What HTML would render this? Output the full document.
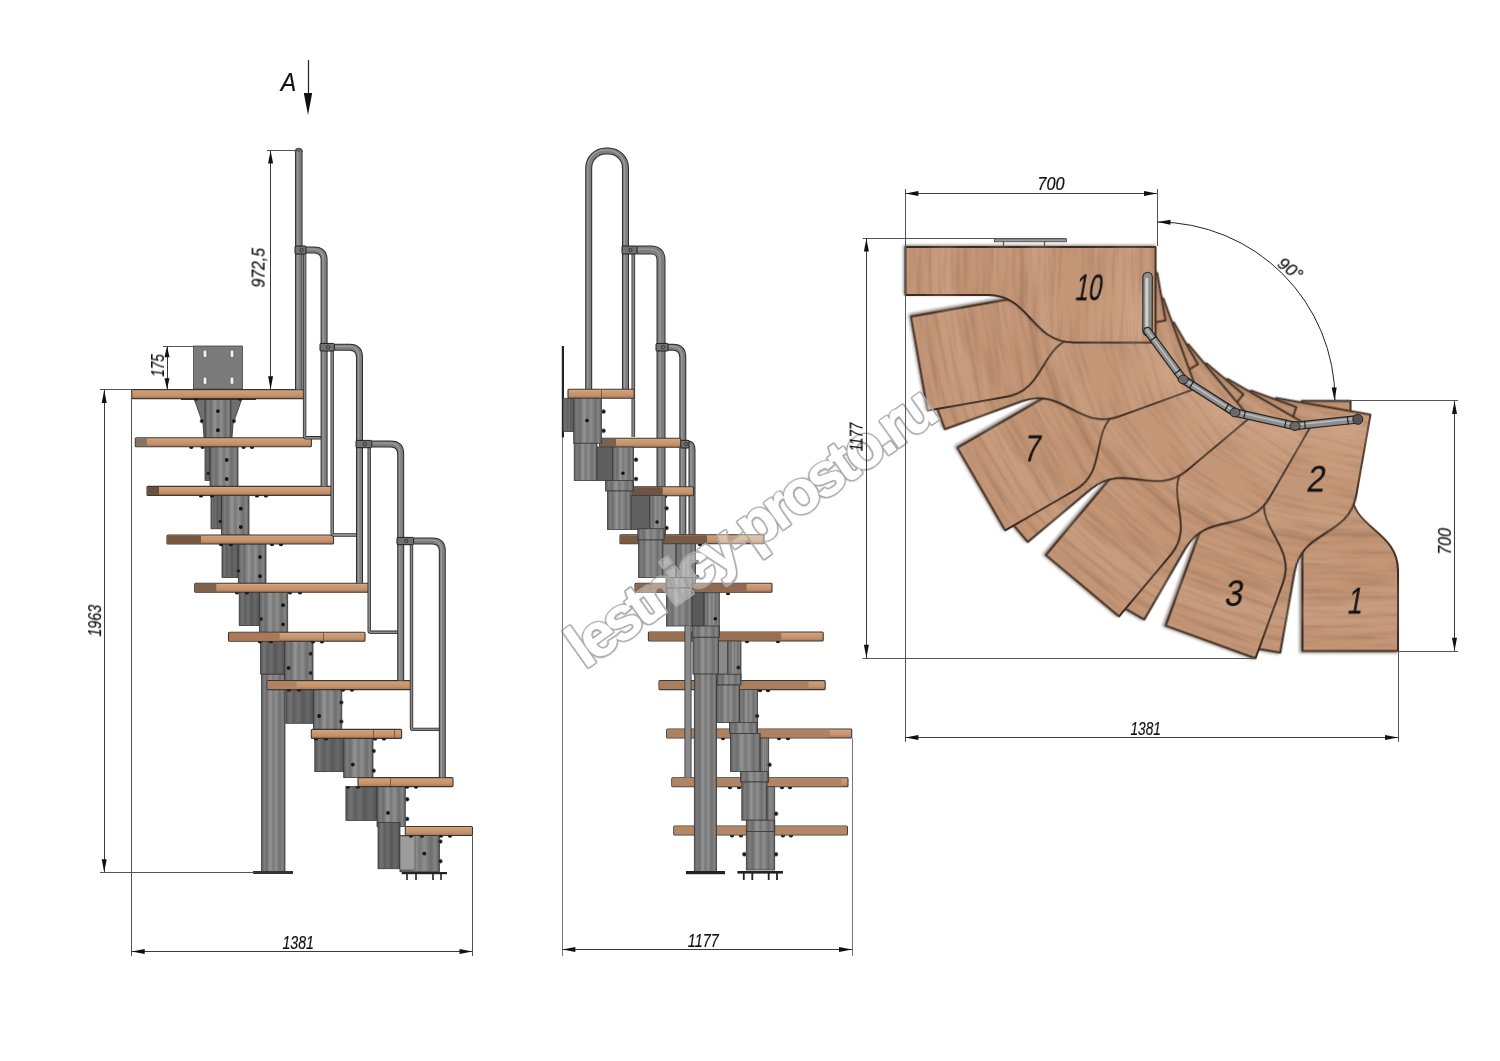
<!DOCTYPE html>
<html><head><meta charset="utf-8"><style>html,body{margin:0;padding:0;background:#fff;overflow:hidden}svg{display:block} text{will-change:transform}</style></head>
<body><svg width="1500" height="1061" viewBox="0 0 1500 1061"><defs>
<linearGradient id="colg" x1="0" x2="1" y1="0" y2="0">
<stop offset="0" stop-color="#5c5c5c"/><stop offset="0.12" stop-color="#7e7e7e"/><stop offset="0.22" stop-color="#6c6c6c"/><stop offset="0.38" stop-color="#959595"/><stop offset="0.5" stop-color="#787878"/><stop offset="0.62" stop-color="#8e8e8e"/><stop offset="0.78" stop-color="#6e6e6e"/><stop offset="0.9" stop-color="#858585"/><stop offset="1" stop-color="#5a5a5a"/>
</linearGradient>
<linearGradient id="coldg" x1="0" x2="1" y1="0" y2="0">
<stop offset="0" stop-color="#555"/><stop offset="0.15" stop-color="#747474"/><stop offset="0.3" stop-color="#5e5e5e"/><stop offset="0.45" stop-color="#6e6e6e"/><stop offset="0.6" stop-color="#585858"/><stop offset="0.8" stop-color="#686868"/><stop offset="1" stop-color="#505050"/>
</linearGradient>
<filter id="shd" x="-5%" y="-5%" width="110%" height="110%"><feDropShadow dx="1" dy="1.5" stdDeviation="1.2" flood-color="#3a2418" flood-opacity="0.45"/></filter>
<linearGradient id="treadg" x1="0" x2="0" y1="0" y2="1"><stop offset="0" stop-color="#d6b08c"/><stop offset="0.25" stop-color="#cc9c74"/><stop offset="0.65" stop-color="#c4936b"/><stop offset="1" stop-color="#a67858"/></linearGradient>
<filter id="woodf" x="-3%" y="-3%" width="106%" height="108%" color-interpolation-filters="sRGB">
<feTurbulence type="fractalNoise" baseFrequency="0.16 0.012" numOctaves="3" seed="4" result="n"/>
<feColorMatrix in="n" type="matrix" values="0 0 0 0 0.42  0 0 0 0 0.27  0 0 0 0 0.18  0.55 0 0 0 -0.23" result="g"/>
<feComposite in="g" in2="SourceAlpha" operator="in" result="gi"/>
<feTurbulence type="fractalNoise" baseFrequency="0.02 0.004" numOctaves="2" seed="9" result="n2"/>
<feColorMatrix in="n2" type="matrix" values="0 0 0 0 0.93  0 0 0 0 0.8  0 0 0 0 0.68  0.7 0 0 0 -0.3" result="h"/>
<feComposite in="h" in2="SourceAlpha" operator="in" result="hi"/>
<feGaussianBlur in="SourceAlpha" stdDeviation="1.4" result="b"/>
<feOffset in="b" dx="0.8" dy="1.5" result="bo"/>
<feColorMatrix in="bo" type="matrix" values="0 0 0 0 0.2  0 0 0 0 0.13  0 0 0 0 0.08  0 0 0 0.55 0" result="sh"/>
<feMerge><feMergeNode in="sh"/><feMergeNode in="SourceGraphic"/><feMergeNode in="hi"/><feMergeNode in="gi"/></feMerge>
</filter>
<filter id="wmf" x="-5%" y="-20%" width="110%" height="140%">
<feMorphology in="SourceAlpha" operator="dilate" radius="1.3" result="d"/>
<feMorphology in="d" operator="dilate" radius="0.9" result="d2"/>
<feMorphology in="d" operator="erode" radius="0.9" result="e"/>
<feComposite in="d2" in2="e" operator="out" result="ring"/>
<feFlood flood-color="#b0b0b0" result="fc"/>
<feComposite in="fc" in2="ring" operator="in" result="ringc"/>
<feFlood flood-color="#ffffff" flood-opacity="0.35" result="fw"/>
<feComposite in="fw" in2="e" operator="in" result="fillc"/>
<feMerge><feMergeNode in="fillc"/><feMergeNode in="ringc"/></feMerge>
</filter>
</defs><rect width="1500" height="1061" fill="#fff"/><g>
<g transform="translate(1306,250.5) rotate(90)"><path d="M150.5,3.5 L400.5,3.5 L400.5,-92 L320,-92 C279,-92 279,-44.5 238,-44.5 L150.5,-44.5 Z" fill="#c39677" stroke="#3a2a20" stroke-width="1.9" stroke-linejoin="round" filter="url(#woodf)"/></g>
<g transform="translate(1306,250.5) rotate(100)"><path d="M150.5,3.5 L400.5,3.5 L400.5,-44.5 L318,-44.5 C275,-44.5 275,-92 232,-92 L150.5,-92 Z" fill="#c39677" stroke="#3a2a20" stroke-width="1.9" stroke-linejoin="round" filter="url(#woodf)"/></g>
<g transform="translate(1306,250.5) rotate(110)"><path d="M150.5,3.5 L400.5,3.5 L400.5,-92 L320,-92 C279,-92 279,-44.5 238,-44.5 L150.5,-44.5 Z" fill="#c39677" stroke="#3a2a20" stroke-width="1.9" stroke-linejoin="round" filter="url(#woodf)"/></g>
<g transform="translate(1306,250.5) rotate(120)"><path d="M150.5,3.5 L400.5,3.5 L400.5,-44.5 L318,-44.5 C275,-44.5 275,-92 232,-92 L150.5,-92 Z" fill="#c39677" stroke="#3a2a20" stroke-width="1.9" stroke-linejoin="round" filter="url(#woodf)"/></g>
<g transform="translate(1306,250.5) rotate(130)"><path d="M150.5,3.5 L400.5,3.5 L400.5,-92 L320,-92 C279,-92 279,-44.5 238,-44.5 L150.5,-44.5 Z" fill="#c39677" stroke="#3a2a20" stroke-width="1.9" stroke-linejoin="round" filter="url(#woodf)"/></g>
<g transform="translate(1306,250.5) rotate(140)"><path d="M150.5,3.5 L400.5,3.5 L400.5,-44.5 L318,-44.5 C275,-44.5 275,-92 232,-92 L150.5,-92 Z" fill="#c39677" stroke="#3a2a20" stroke-width="1.9" stroke-linejoin="round" filter="url(#woodf)"/></g>
<g transform="translate(1306,250.5) rotate(150)"><path d="M150.5,3.5 L400.5,3.5 L400.5,-92 L320,-92 C279,-92 279,-44.5 238,-44.5 L150.5,-44.5 Z" fill="#c39677" stroke="#3a2a20" stroke-width="1.9" stroke-linejoin="round" filter="url(#woodf)"/></g>
<g transform="translate(1306,250.5) rotate(160)"><path d="M150.5,3.5 L400.5,3.5 L400.5,-44.5 L318,-44.5 C275,-44.5 275,-92 232,-92 L150.5,-92 Z" fill="#c39677" stroke="#3a2a20" stroke-width="1.9" stroke-linejoin="round" filter="url(#woodf)"/></g>
<g transform="translate(1306,250.5) rotate(170)"><path d="M150.5,3.5 L400.5,3.5 L400.5,-92 L320,-92 C279,-92 279,-44.5 238,-44.5 L150.5,-44.5 Z" fill="#c39677" stroke="#3a2a20" stroke-width="1.9" stroke-linejoin="round" filter="url(#woodf)"/></g>
<g transform="translate(1306,250.5) rotate(180)"><path d="M150.5,3.5 L400.5,3.5 L400.5,-44.5 L318,-44.5 C275,-44.5 275,-92 232,-92 L150.5,-92 Z" fill="#c39677" stroke="#3a2a20" stroke-width="1.9" stroke-linejoin="round" filter="url(#woodf)"/></g>
</g>
<rect x="994.6" y="238.8" width="71.8" height="3" fill="#9a9a9a" stroke="#444" stroke-width="0.8"/>
<line x1="1003.5" y1="241" x2="1003.5" y2="247" stroke="#555" stroke-width="1.2"/>
<line x1="1044.5" y1="241" x2="1044.5" y2="247" stroke="#555" stroke-width="1.2"/>
<path d="M1147.6,277 L1147.5,331" fill="none" stroke="#262626" stroke-width="10.5" stroke-linecap="round"/>
<path d="M1147.6,277 L1147.5,331" fill="none" stroke="#8c8c8c" stroke-width="8.3" stroke-linecap="round"/>
<path d="M1146.8,279 L1146.8,327" fill="none" stroke="#cfcfcf" stroke-width="3" stroke-linecap="round"/>
<path d="M1147.5,331 L1183.2,379.5 L1235,412.5 L1295,426 L1357.8,419.3" fill="none" stroke="#262626" stroke-width="8.6" stroke-linecap="round" stroke-linejoin="round"/>
<path d="M1147.5,331 L1183.2,379.5 L1235,412.5 L1295,426 L1357.8,419.3" fill="none" stroke="#8e8e8e" stroke-width="6.2" stroke-linecap="round" stroke-linejoin="round"/>
<path d="M1147.5,331 L1183.2,379.5 L1235,412.5 L1295,426 L1357.8,419.3" fill="none" stroke="#bdbdbd" stroke-width="1.5" stroke-linecap="round" stroke-linejoin="round" transform="translate(-0.6,-1)"/>
<rect x="-0.6" y="-4.3" width="1.2" height="8.6" fill="#222" transform="translate(1153.2,338.8) rotate(53.6)"/>
<rect x="-0.6" y="-4.3" width="1.2" height="8.6" fill="#222" transform="translate(1177.5,371.7) rotate(53.6)"/>
<rect x="-0.6" y="-4.3" width="1.2" height="8.6" fill="#222" transform="translate(1191.5,384.8) rotate(32.5)"/>
<rect x="-0.6" y="-4.3" width="1.2" height="8.6" fill="#222" transform="translate(1226.7,407.2) rotate(32.5)"/>
<rect x="-0.6" y="-4.3" width="1.2" height="8.6" fill="#222" transform="translate(1244.6,414.7) rotate(12.7)"/>
<rect x="-0.6" y="-4.3" width="1.2" height="8.6" fill="#222" transform="translate(1285.4,423.8) rotate(12.7)"/>
<rect x="-0.6" y="-4.3" width="1.2" height="8.6" fill="#222" transform="translate(1305.0,424.9) rotate(-6.1)"/>
<rect x="-0.6" y="-4.3" width="1.2" height="8.6" fill="#222" transform="translate(1347.8,420.4) rotate(-6.1)"/>
<ellipse cx="1183.2" cy="379.5" rx="5" ry="4.4" fill="#6a6a6a" stroke="#222" stroke-width="1"/>
<ellipse cx="1235" cy="412.5" rx="5" ry="4.4" fill="#6a6a6a" stroke="#222" stroke-width="1"/>
<ellipse cx="1295" cy="426" rx="5" ry="4.4" fill="#6a6a6a" stroke="#222" stroke-width="1"/>
<circle cx="1357.8" cy="419.3" r="5" fill="#555" stroke="#222" stroke-width="1"/>
<text x="0" y="0" transform="translate(1087.5,299.7) skewX(-10)" font-size="35.5" font-family="Liberation Sans, sans-serif" text-anchor="middle" fill="#111" stroke="#111" stroke-width="0.25" textLength="26.4" lengthAdjust="spacingAndGlyphs">10</text>
<text x="0" y="0" transform="translate(1031.0,460.7) skewX(-10)" font-size="35.5" font-family="Liberation Sans, sans-serif" text-anchor="middle" fill="#111" stroke="#111" stroke-width="0.25" textLength="16" lengthAdjust="spacingAndGlyphs">7</text>
<text x="0" y="0" transform="translate(1232.8,605.5) skewX(-10)" font-size="35.5" font-family="Liberation Sans, sans-serif" text-anchor="middle" fill="#111" stroke="#111" stroke-width="0.25" textLength="17.9" lengthAdjust="spacingAndGlyphs">3</text>
<text x="0" y="0" transform="translate(1314.9,491) skewX(-10)" font-size="35.5" font-family="Liberation Sans, sans-serif" text-anchor="middle" fill="#111" stroke="#111" stroke-width="0.25" textLength="17.9" lengthAdjust="spacingAndGlyphs">2</text>
<text x="0" y="0" transform="translate(1354.0,613) skewX(-10)" font-size="35.5" font-family="Liberation Sans, sans-serif" text-anchor="middle" fill="#111" stroke="#111" stroke-width="0.25" textLength="15" lengthAdjust="spacingAndGlyphs">1</text>
<rect x="261.5" y="674" width="23.5" height="198" fill="url(#colg)" stroke="#3a3a3a" stroke-width="0.8"/>
<rect x="253" y="871" width="40" height="3" fill="#333"/>
<polygon points="194,398.5 242,398.5 233,424 232,437.8 204,437.8 203,424" fill="#6f6f6f" stroke="#333" stroke-width="0.8"/>
<rect x="205" y="398.5" width="26" height="39.30000000000001" fill="url(#colg)" stroke="#3a3a3a" stroke-width="0.8"/>
<rect x="205" y="446.8" width="5" height="33.599999999999966" fill="url(#coldg)" stroke="#3a3a3a" stroke-width="0.8"/>
<rect x="210" y="446.8" width="28" height="39.599999999999966" fill="url(#colg)" stroke="#3a3a3a" stroke-width="0.8"/>
<rect x="211" y="495.4" width="10.5" height="33.39999999999998" fill="url(#coldg)" stroke="#3a3a3a" stroke-width="0.8"/>
<rect x="221.5" y="495.4" width="27.5" height="39.60000000000002" fill="url(#colg)" stroke="#3a3a3a" stroke-width="0.8"/>
<rect x="222" y="544" width="16.30000000000001" height="33.5" fill="url(#coldg)" stroke="#3a3a3a" stroke-width="0.8"/>
<rect x="238.3" y="544" width="27.69999999999999" height="39.299999999999955" fill="url(#colg)" stroke="#3a3a3a" stroke-width="0.8"/>
<rect x="239.2" y="592.3" width="20.19999999999999" height="33.30000000000007" fill="url(#coldg)" stroke="#3a3a3a" stroke-width="0.8"/>
<rect x="259.4" y="592.3" width="28.30000000000001" height="40.0" fill="url(#colg)" stroke="#3a3a3a" stroke-width="0.8"/>
<rect x="260.4" y="641.3" width="24.30000000000001" height="32.80000000000007" fill="url(#coldg)" stroke="#3a3a3a" stroke-width="0.8"/>
<rect x="284.7" y="641.3" width="28.30000000000001" height="39.30000000000007" fill="url(#colg)" stroke="#3a3a3a" stroke-width="0.8"/>
<rect x="285.8" y="689.6" width="27.69999999999999" height="33.69999999999993" fill="url(#coldg)" stroke="#3a3a3a" stroke-width="0.8"/>
<rect x="313.5" y="689.6" width="28.30000000000001" height="39.799999999999955" fill="url(#colg)" stroke="#3a3a3a" stroke-width="0.8"/>
<rect x="314.8" y="738.4" width="28.899999999999977" height="33.200000000000045" fill="url(#coldg)" stroke="#3a3a3a" stroke-width="0.8"/>
<rect x="343.7" y="738.4" width="29.30000000000001" height="39.200000000000045" fill="url(#colg)" stroke="#3a3a3a" stroke-width="0.8"/>
<rect x="345.9" y="786.6" width="31.100000000000023" height="33.799999999999955" fill="url(#coldg)" stroke="#3a3a3a" stroke-width="0.8"/>
<rect x="377" y="786.6" width="28.30000000000001" height="39.89999999999998" fill="url(#colg)" stroke="#3a3a3a" stroke-width="0.8"/>
<rect x="378" y="822.5" width="22" height="46.200000000000045" fill="url(#coldg)" stroke="#3a3a3a" stroke-width="0.8"/>
<rect x="400" y="835.5" width="39.39999999999998" height="36.200000000000045" fill="url(#colg)" stroke="#3a3a3a" stroke-width="0.8"/>
<rect x="400" y="836" width="15" height="34" fill="#9c9c9c" stroke="#444" stroke-width="0.6"/>
<rect x="401.7" y="872" width="45.3" height="2.2" fill="#222"/>
<line x1="407" y1="872" x2="407" y2="880" stroke="#222" stroke-width="1.6"/>
<line x1="416" y1="872" x2="416" y2="880" stroke="#222" stroke-width="1.6"/>
<line x1="433" y1="872" x2="433" y2="880" stroke="#222" stroke-width="1.6"/>
<line x1="441" y1="872" x2="441" y2="880" stroke="#222" stroke-width="1.6"/>
<circle cx="202" cy="421" r="2" fill="#1a1a1a" stroke="#666" stroke-width="0.6"/>
<circle cx="233.7" cy="421" r="2" fill="#1a1a1a" stroke="#666" stroke-width="0.6"/>
<circle cx="208.3" cy="473.4" r="2" fill="#1a1a1a" stroke="#666" stroke-width="0.6"/>
<circle cx="220.3" cy="521.4" r="2" fill="#1a1a1a" stroke="#666" stroke-width="0.6"/>
<circle cx="238.3" cy="570.9" r="2" fill="#1a1a1a" stroke="#666" stroke-width="0.6"/>
<circle cx="261" cy="619" r="2" fill="#1a1a1a" stroke="#666" stroke-width="0.6"/>
<circle cx="310.7" cy="653.8" r="2" fill="#1a1a1a" stroke="#666" stroke-width="0.6"/>
<circle cx="310.7" cy="673" r="2" fill="#1a1a1a" stroke="#666" stroke-width="0.6"/>
<circle cx="341.2" cy="702.4" r="2" fill="#1a1a1a" stroke="#666" stroke-width="0.6"/>
<circle cx="341.2" cy="721.6" r="2" fill="#1a1a1a" stroke="#666" stroke-width="0.6"/>
<circle cx="373.6" cy="751" r="2" fill="#1a1a1a" stroke="#666" stroke-width="0.6"/>
<circle cx="373.6" cy="770.7" r="2" fill="#1a1a1a" stroke="#666" stroke-width="0.6"/>
<circle cx="407.1" cy="799.3" r="2" fill="#1a1a1a" stroke="#666" stroke-width="0.6"/>
<circle cx="407.1" cy="818.9" r="2" fill="#1a1a1a" stroke="#666" stroke-width="0.6"/>
<circle cx="440.3" cy="841.5" r="2" fill="#1a1a1a" stroke="#666" stroke-width="0.6"/>
<circle cx="440.3" cy="861.2" r="2" fill="#1a1a1a" stroke="#666" stroke-width="0.6"/>
<circle cx="217.9" cy="411.1" r="1.9" fill="#151515"/>
<circle cx="217.9" cy="430.2" r="1.9" fill="#151515"/>
<circle cx="226.7" cy="459.9" r="1.9" fill="#151515"/>
<circle cx="226.7" cy="479" r="1.9" fill="#151515"/>
<circle cx="240.8" cy="508.7" r="1.9" fill="#151515"/>
<circle cx="240.8" cy="527" r="1.9" fill="#151515"/>
<circle cx="260" cy="557" r="1.9" fill="#151515"/>
<circle cx="260" cy="576.2" r="1.9" fill="#151515"/>
<circle cx="283.1" cy="605.2" r="1.9" fill="#151515"/>
<circle cx="283.1" cy="624.3" r="1.9" fill="#151515"/>
<circle cx="288.6" cy="667.9" r="1.9" fill="#151515"/>
<circle cx="319.2" cy="716" r="1.9" fill="#151515"/>
<circle cx="352.8" cy="764.6" r="1.9" fill="#151515"/>
<circle cx="388" cy="812.9" r="1.9" fill="#151515"/>
<circle cx="424.3" cy="853.6" r="1.9" fill="#151515"/>
<rect x="193.5" y="346" width="49" height="43" fill="#7b7b7b" stroke="#444" stroke-width="0.8"/>
<rect x="203.2" y="350" width="3.6" height="7.5" fill="#f2f2f2" stroke="#444" stroke-width="0.5" rx="1.7"/>
<rect x="203.2" y="377" width="3.6" height="7.5" fill="#f2f2f2" stroke="#444" stroke-width="0.5" rx="1.7"/>
<rect x="230.2" y="350" width="3.6" height="7.5" fill="#f2f2f2" stroke="#444" stroke-width="0.5" rx="1.7"/>
<rect x="230.2" y="377" width="3.6" height="7.5" fill="#f2f2f2" stroke="#444" stroke-width="0.5" rx="1.7"/>
<rect x="131.7" y="389.6" width="172.3" height="9" fill="url(#treadg)" stroke="#3e3630" stroke-width="1.1" rx="1"/>
<rect x="181" y="398.4" width="75" height="1.6" fill="#333"/>
<rect x="135.3" y="437.8" width="176.09999999999997" height="9" fill="url(#treadg)" stroke="#3e3630" stroke-width="1.1" rx="1"/>
<rect x="135.8" y="438.3" width="11.199999999999989" height="8" fill="#857565"/>
<rect x="147" y="486.4" width="185" height="9" fill="url(#treadg)" stroke="#3e3630" stroke-width="1.1" rx="1"/>
<rect x="147.5" y="486.9" width="11.5" height="8" fill="#6a5040"/>
<rect x="167" y="535" width="166.5" height="9" fill="url(#treadg)" stroke="#3e3630" stroke-width="1.1" rx="1"/>
<rect x="167.5" y="535.5" width="33.5" height="8" fill="#77583f"/>
<rect x="194.7" y="583.3" width="174.3" height="9" fill="url(#treadg)" stroke="#3e3630" stroke-width="1.1" rx="1"/>
<rect x="195.2" y="583.8" width="21.100000000000023" height="8" fill="#80624a"/>
<rect x="228.5" y="632.3" width="136.5" height="9" fill="url(#treadg)" stroke="#3e3630" stroke-width="1.1" rx="1"/>
<rect x="229.0" y="632.8" width="50.60000000000002" height="8" fill="#a9795a"/>
<line x1="323.5" y1="632.8" x2="323.5" y2="640.8" stroke="#6a4a36" stroke-width="0.8"/>
<rect x="267.1" y="680.6" width="144.2" height="9" fill="url(#treadg)" stroke="#3e3630" stroke-width="1.1" rx="1"/>
<rect x="267.6" y="681.1" width="29.0" height="8" fill="#b08262"/>
<rect x="311.3" y="729.4" width="90.30000000000001" height="9" fill="url(#treadg)" stroke="#3e3630" stroke-width="1.1" rx="1"/>
<line x1="373.5" y1="729.9" x2="373.5" y2="737.9" stroke="#6a4a36" stroke-width="0.8"/>
<line x1="394.5" y1="729.9" x2="394.5" y2="737.9" stroke="#6a4a36" stroke-width="0.8"/>
<rect x="358" y="777.6" width="95" height="9" fill="url(#treadg)" stroke="#3e3630" stroke-width="1.1" rx="1"/>
<line x1="390.5" y1="778.1" x2="390.5" y2="786.1" stroke="#6a4a36" stroke-width="0.8"/>
<rect x="405.3" y="826.5" width="67.19999999999999" height="9" fill="url(#treadg)" stroke="#3e3630" stroke-width="1.1" rx="1"/>
<path d="M193.8,398.6 A2.2,2.2 0 0 0 198.2,398.6 Z" fill="#1a1a1a"/>
<path d="M237.8,398.6 A2.2,2.2 0 0 0 242.2,398.6 Z" fill="#1a1a1a"/>
<path d="M189.10000000000002,446.8 A2.2,2.2 0 0 0 193.5,446.8 Z" fill="#1a1a1a"/>
<path d="M200.4,446.8 A2.2,2.2 0 0 0 204.79999999999998,446.8 Z" fill="#1a1a1a"/>
<path d="M241.4,446.8 A2.2,2.2 0 0 0 245.79999999999998,446.8 Z" fill="#1a1a1a"/>
<path d="M249.8,446.8 A2.2,2.2 0 0 0 254.2,446.8 Z" fill="#1a1a1a"/>
<path d="M198.8,495.4 A2.2,2.2 0 0 0 203.2,495.4 Z" fill="#1a1a1a"/>
<path d="M209.8,495.4 A2.2,2.2 0 0 0 214.2,495.4 Z" fill="#1a1a1a"/>
<path d="M254.8,495.4 A2.2,2.2 0 0 0 259.2,495.4 Z" fill="#1a1a1a"/>
<path d="M263.8,495.4 A2.2,2.2 0 0 0 268.2,495.4 Z" fill="#1a1a1a"/>
<path d="M218.8,544 A2.2,2.2 0 0 0 223.2,544 Z" fill="#1a1a1a"/>
<path d="M228.8,544 A2.2,2.2 0 0 0 233.2,544 Z" fill="#1a1a1a"/>
<path d="M269.8,544 A2.2,2.2 0 0 0 274.2,544 Z" fill="#1a1a1a"/>
<path d="M278.8,544 A2.2,2.2 0 0 0 283.2,544 Z" fill="#1a1a1a"/>
<path d="M234.8,592.3 A2.2,2.2 0 0 0 239.2,592.3 Z" fill="#1a1a1a"/>
<path d="M244.8,592.3 A2.2,2.2 0 0 0 249.2,592.3 Z" fill="#1a1a1a"/>
<path d="M287.8,592.3 A2.2,2.2 0 0 0 292.2,592.3 Z" fill="#1a1a1a"/>
<path d="M297.8,592.3 A2.2,2.2 0 0 0 302.2,592.3 Z" fill="#1a1a1a"/>
<path d="M257.8,641.3 A2.2,2.2 0 0 0 262.2,641.3 Z" fill="#1a1a1a"/>
<path d="M268.8,641.3 A2.2,2.2 0 0 0 273.2,641.3 Z" fill="#1a1a1a"/>
<path d="M310.8,641.3 A2.2,2.2 0 0 0 315.2,641.3 Z" fill="#1a1a1a"/>
<path d="M319.8,641.3 A2.2,2.2 0 0 0 324.2,641.3 Z" fill="#1a1a1a"/>
<path d="M286.8,689.6 A2.2,2.2 0 0 0 291.2,689.6 Z" fill="#1a1a1a"/>
<path d="M296.8,689.6 A2.2,2.2 0 0 0 301.2,689.6 Z" fill="#1a1a1a"/>
<path d="M340.8,689.6 A2.2,2.2 0 0 0 345.2,689.6 Z" fill="#1a1a1a"/>
<path d="M349.8,689.6 A2.2,2.2 0 0 0 354.2,689.6 Z" fill="#1a1a1a"/>
<path d="M313.8,738.4 A2.2,2.2 0 0 0 318.2,738.4 Z" fill="#1a1a1a"/>
<path d="M323.8,738.4 A2.2,2.2 0 0 0 328.2,738.4 Z" fill="#1a1a1a"/>
<path d="M372.8,738.4 A2.2,2.2 0 0 0 377.2,738.4 Z" fill="#1a1a1a"/>
<path d="M381.8,738.4 A2.2,2.2 0 0 0 386.2,738.4 Z" fill="#1a1a1a"/>
<path d="M345.8,786.6 A2.2,2.2 0 0 0 350.2,786.6 Z" fill="#1a1a1a"/>
<path d="M355.8,786.6 A2.2,2.2 0 0 0 360.2,786.6 Z" fill="#1a1a1a"/>
<path d="M404.8,786.6 A2.2,2.2 0 0 0 409.2,786.6 Z" fill="#1a1a1a"/>
<path d="M413.8,786.6 A2.2,2.2 0 0 0 418.2,786.6 Z" fill="#1a1a1a"/>
<path d="M408.8,835.5 A2.2,2.2 0 0 0 413.2,835.5 Z" fill="#1a1a1a"/>
<path d="M419.8,835.5 A2.2,2.2 0 0 0 424.2,835.5 Z" fill="#1a1a1a"/>
<path d="M438.8,835.5 A2.2,2.2 0 0 0 443.2,835.5 Z" fill="#1a1a1a"/>
<path d="M447.8,835.5 A2.2,2.2 0 0 0 452.2,835.5 Z" fill="#1a1a1a"/>
<path d="M298.8,152 L298.8,389.6" fill="none" stroke="#2e2e2e" stroke-width="7.5" stroke-linejoin="round"/>
<path d="M298.8,152 L298.8,389.6" fill="none" stroke="#7e7e7e" stroke-width="5.5" stroke-linejoin="round"/>
<path d="M298.8,152 L298.8,389.6" fill="none" stroke="#9c9c9c" stroke-width="1.3" stroke-linejoin="round" transform="translate(-0.9,-0.9)"/>
<path d="M295,152 A3.8,3.8 0 0 1 302.6,152" fill="#6e6e6e" stroke="#2e2e2e" stroke-width="0.9"/>
<path d="M304.6,254 L304.6,436.3 Q304.6,437.8 306.6,437.8 L321,437.8" fill="none" stroke="#2e2e2e" stroke-width="3.4" stroke-linejoin="round"/>
<path d="M304.6,254 L304.6,436.3 Q304.6,437.8 306.6,437.8 L321,437.8" fill="none" stroke="#8a8a8a" stroke-width="1.7999999999999998" stroke-linejoin="round"/>
<path d="M332.2,351 L332.2,533.5 Q332.2,535 334.2,535 L356,535" fill="none" stroke="#2e2e2e" stroke-width="3.4" stroke-linejoin="round"/>
<path d="M332.2,351 L332.2,533.5 Q332.2,535 334.2,535 L356,535" fill="none" stroke="#8a8a8a" stroke-width="1.7999999999999998" stroke-linejoin="round"/>
<path d="M369.2,447.6 L369.2,630.8 Q369.2,632.3 371.2,632.3 L397.4,632.3" fill="none" stroke="#2e2e2e" stroke-width="3.4" stroke-linejoin="round"/>
<path d="M369.2,447.6 L369.2,630.8 Q369.2,632.3 371.2,632.3 L397.4,632.3" fill="none" stroke="#8a8a8a" stroke-width="1.7999999999999998" stroke-linejoin="round"/>
<path d="M411.5,544.7 L411.5,727.9 Q411.5,729.4 413.5,729.4 L439,729.4" fill="none" stroke="#2e2e2e" stroke-width="3.4" stroke-linejoin="round"/>
<path d="M411.5,544.7 L411.5,727.9 Q411.5,729.4 413.5,729.4 L439,729.4" fill="none" stroke="#8a8a8a" stroke-width="1.7999999999999998" stroke-linejoin="round"/>
<path d="M306,250 L314.1,250 Q324.1,250 324.1,260 L324.1,486.4" fill="none" stroke="#2e2e2e" stroke-width="7" stroke-linejoin="round"/>
<path d="M306,250 L314.1,250 Q324.1,250 324.1,260 L324.1,486.4" fill="none" stroke="#7e7e7e" stroke-width="5" stroke-linejoin="round"/>
<path d="M306,250 L314.1,250 Q324.1,250 324.1,260 L324.1,486.4" fill="none" stroke="#9c9c9c" stroke-width="1.3" stroke-linejoin="round" transform="translate(-0.9,-0.9)"/>
<path d="M334.3,347.2 L349.5,347.2 Q359.5,347.2 359.5,357.2 L359.5,583.3" fill="none" stroke="#2e2e2e" stroke-width="7" stroke-linejoin="round"/>
<path d="M334.3,347.2 L349.5,347.2 Q359.5,347.2 359.5,357.2 L359.5,583.3" fill="none" stroke="#7e7e7e" stroke-width="5" stroke-linejoin="round"/>
<path d="M334.3,347.2 L349.5,347.2 Q359.5,347.2 359.5,357.2 L359.5,583.3" fill="none" stroke="#9c9c9c" stroke-width="1.3" stroke-linejoin="round" transform="translate(-0.9,-0.9)"/>
<path d="M371.7,444 L390.7,444 Q400.7,444 400.7,454 L400.7,680.6" fill="none" stroke="#2e2e2e" stroke-width="7" stroke-linejoin="round"/>
<path d="M371.7,444 L390.7,444 Q400.7,444 400.7,454 L400.7,680.6" fill="none" stroke="#7e7e7e" stroke-width="5" stroke-linejoin="round"/>
<path d="M371.7,444 L390.7,444 Q400.7,444 400.7,454 L400.7,680.6" fill="none" stroke="#9c9c9c" stroke-width="1.3" stroke-linejoin="round" transform="translate(-0.9,-0.9)"/>
<path d="M413.6,541 L432.3,541 Q442.3,541 442.3,551 L442.3,777.6" fill="none" stroke="#2e2e2e" stroke-width="7" stroke-linejoin="round"/>
<path d="M413.6,541 L432.3,541 Q442.3,541 442.3,551 L442.3,777.6" fill="none" stroke="#7e7e7e" stroke-width="5" stroke-linejoin="round"/>
<path d="M413.6,541 L432.3,541 Q442.3,541 442.3,551 L442.3,777.6" fill="none" stroke="#9c9c9c" stroke-width="1.3" stroke-linejoin="round" transform="translate(-0.9,-0.9)"/>
<rect x="295" y="246" width="11" height="8" fill="#717171" stroke="#1e1e1e" stroke-width="1" rx="1"/>
<circle cx="301.5" cy="250.0" r="1.7" fill="none" stroke="#222" stroke-width="0.7"/>
<rect x="320" y="343.4" width="14.300000000000011" height="7.600000000000023" fill="#717171" stroke="#1e1e1e" stroke-width="1" rx="1"/>
<circle cx="328.1" cy="347.2" r="1.7" fill="none" stroke="#222" stroke-width="0.7"/>
<rect x="356" y="440.4" width="15.699999999999989" height="7.300000000000011" fill="#717171" stroke="#1e1e1e" stroke-width="1" rx="1"/>
<circle cx="364.9" cy="444.0" r="1.7" fill="none" stroke="#222" stroke-width="0.7"/>
<rect x="397" y="537.4" width="16.600000000000023" height="7.300000000000068" fill="#717171" stroke="#1e1e1e" stroke-width="1" rx="1"/>
<circle cx="406.3" cy="541.0" r="1.7" fill="none" stroke="#222" stroke-width="0.7"/>
<line x1="562.9" y1="346" x2="562.9" y2="437.6" stroke="#222" stroke-width="2.2"/>
<path d="M588.7,389.3 L588.7,168 A17,17 0 0 1 605.7,151 L608.5,151 A17,17 0 0 1 625.5,168 L625.5,389.3" fill="none" stroke="#2e2e2e" stroke-width="7" stroke-linejoin="round"/>
<path d="M588.7,389.3 L588.7,168 A17,17 0 0 1 605.7,151 L608.5,151 A17,17 0 0 1 625.5,168 L625.5,389.3" fill="none" stroke="#7e7e7e" stroke-width="5" stroke-linejoin="round"/>
<path d="M588.7,389.3 L588.7,168 A17,17 0 0 1 605.7,151 L608.5,151 A17,17 0 0 1 625.5,168 L625.5,389.3" fill="none" stroke="#9c9c9c" stroke-width="1.3" stroke-linejoin="round" transform="translate(-0.9,-0.9)"/>
<path d="M633.3,254 L633.3,437" fill="none" stroke="#2e2e2e" stroke-width="3.6" stroke-linejoin="round"/>
<path d="M633.3,254 L633.3,437" fill="none" stroke="#8a8a8a" stroke-width="2.0" stroke-linejoin="round"/>
<path d="M637,250 L651,250 Q661,250 661,260 L661,486.7" fill="none" stroke="#2e2e2e" stroke-width="9" stroke-linejoin="round"/>
<path d="M637,250 L651,250 Q661,250 661,260 L661,486.7" fill="none" stroke="#7e7e7e" stroke-width="7" stroke-linejoin="round"/>
<path d="M637,250 L651,250 Q661,250 661,260 L661,486.7" fill="none" stroke="#9c9c9c" stroke-width="1.3" stroke-linejoin="round" transform="translate(-0.9,-0.9)"/>
<rect x="622" y="246" width="15" height="8" fill="#717171" stroke="#1e1e1e" stroke-width="1" rx="1"/>
<circle cx="630.5" cy="250.0" r="1.7" fill="none" stroke="#222" stroke-width="0.7"/>
<path d="M668,347.2 L672.8,347.2 Q682.8,347.2 682.8,357.2 L682.8,534.8" fill="none" stroke="#2e2e2e" stroke-width="7" stroke-linejoin="round"/>
<path d="M668,347.2 L672.8,347.2 Q682.8,347.2 682.8,357.2 L682.8,534.8" fill="none" stroke="#7e7e7e" stroke-width="5" stroke-linejoin="round"/>
<path d="M668,347.2 L672.8,347.2 Q682.8,347.2 682.8,357.2 L682.8,534.8" fill="none" stroke="#9c9c9c" stroke-width="1.3" stroke-linejoin="round" transform="translate(-0.9,-0.9)"/>
<rect x="656" y="343.4" width="12" height="7.600000000000023" fill="#717171" stroke="#1e1e1e" stroke-width="1" rx="1"/>
<circle cx="663.0" cy="347.2" r="1.7" fill="none" stroke="#222" stroke-width="0.7"/>
<path d="M688,444 L688,444 Q692,444 692,450 L692,534.8" fill="none" stroke="#2e2e2e" stroke-width="7" stroke-linejoin="round"/>
<path d="M688,444 L688,444 Q692,444 692,450 L692,534.8" fill="none" stroke="#7e7e7e" stroke-width="5" stroke-linejoin="round"/>
<path d="M688,444 L688,444 Q692,444 692,450 L692,534.8" fill="none" stroke="#9c9c9c" stroke-width="1.3" stroke-linejoin="round" transform="translate(-0.9,-0.9)"/>
<rect x="680.7" y="440.3" width="8.299999999999955" height="7.699999999999989" fill="#717171" stroke="#1e1e1e" stroke-width="1" rx="1"/>
<circle cx="685.9" cy="444.1" r="1.7" fill="none" stroke="#222" stroke-width="0.7"/>
<rect x="568" y="389.3" width="66.20000000000005" height="9" fill="url(#treadg)" stroke="#3e3630" stroke-width="1.1" rx="1"/>
<line x1="601.5" y1="389.8" x2="601.5" y2="397.8" stroke="#6a4a36" stroke-width="0.8"/>
<rect x="599.7" y="438.3" width="81.0" height="9" fill="url(#treadg)" stroke="#3e3630" stroke-width="1.1" rx="1"/>
<rect x="600.2" y="438.8" width="15.799999999999955" height="8" fill="#7a6250"/>
<rect x="632.2" y="486.7" width="61.299999999999955" height="9" fill="url(#treadg)" stroke="#3e3630" stroke-width="1.1" rx="1"/>
<rect x="632.7" y="487.2" width="30.0" height="8" fill="#6e5443"/>
<rect x="620" y="534.8" width="144" height="9" fill="url(#treadg)" stroke="#3e3630" stroke-width="1.1" rx="1"/>
<rect x="620.5" y="535.3" width="86.5" height="8" fill="#7a5a44"/>
<rect x="635" y="583.2" width="137" height="9" fill="url(#treadg)" stroke="#3e3630" stroke-width="1.1" rx="1"/>
<rect x="635.5" y="583.7" width="111.10000000000002" height="8" fill="#8f6a50"/>
<rect x="648.4" y="632" width="174.80000000000007" height="9" fill="url(#treadg)" stroke="#3e3630" stroke-width="1.1" rx="1"/>
<rect x="648.9" y="632.5" width="132.30000000000007" height="8" fill="#9a7052"/>
<rect x="659" y="680.6" width="166.20000000000005" height="9" fill="url(#treadg)" stroke="#3e3630" stroke-width="1.1" rx="1"/>
<rect x="659.5" y="681.1" width="149.0" height="8" fill="#a97e5e"/>
<rect x="666.7" y="729" width="185.0" height="9" fill="url(#treadg)" stroke="#3e3630" stroke-width="1.1" rx="1"/>
<rect x="667.2" y="729.5" width="162.5" height="8" fill="#ad8262"/>
<rect x="671.8" y="777.8" width="176.20000000000005" height="9" fill="url(#treadg)" stroke="#3e3630" stroke-width="1.1" rx="1"/>
<rect x="672.3" y="778.3" width="169.20000000000005" height="8" fill="#b08565"/>
<rect x="673.8" y="826" width="173.60000000000002" height="9" fill="url(#treadg)" stroke="#3e3630" stroke-width="1.1" rx="1"/>
<rect x="674.3" y="826.5" width="172.70000000000005" height="8" fill="#b38866"/>
<path d="M572.8,399 A2.2,2.2 0 0 0 577.2,399 Z" fill="#1a1a1a"/>
<path d="M595.8,399 A2.2,2.2 0 0 0 600.2,399 Z" fill="#1a1a1a"/>
<path d="M601.8,447 A2.2,2.2 0 0 0 606.2,447 Z" fill="#1a1a1a"/>
<path d="M625.8,447 A2.2,2.2 0 0 0 630.2,447 Z" fill="#1a1a1a"/>
<path d="M652.8,496 A2.2,2.2 0 0 0 657.2,496 Z" fill="#1a1a1a"/>
<path d="M662.8,496 A2.2,2.2 0 0 0 667.2,496 Z" fill="#1a1a1a"/>
<path d="M686.8,544 A2.2,2.2 0 0 0 691.2,544 Z" fill="#1a1a1a"/>
<path d="M697.8,544 A2.2,2.2 0 0 0 702.2,544 Z" fill="#1a1a1a"/>
<path d="M713.8,593 A2.2,2.2 0 0 0 718.2,593 Z" fill="#1a1a1a"/>
<path d="M725.8,593 A2.2,2.2 0 0 0 730.2,593 Z" fill="#1a1a1a"/>
<path d="M735.8,641 A2.2,2.2 0 0 0 740.2,641 Z" fill="#1a1a1a"/>
<path d="M744.8,641 A2.2,2.2 0 0 0 749.2,641 Z" fill="#1a1a1a"/>
<path d="M775.8,641 A2.2,2.2 0 0 0 780.2,641 Z" fill="#1a1a1a"/>
<path d="M703.8,690 A2.2,2.2 0 0 0 708.2,690 Z" fill="#1a1a1a"/>
<path d="M710.8,690 A2.2,2.2 0 0 0 715.2,690 Z" fill="#1a1a1a"/>
<path d="M757.8,690 A2.2,2.2 0 0 0 762.2,690 Z" fill="#1a1a1a"/>
<path d="M765.8,690 A2.2,2.2 0 0 0 770.2,690 Z" fill="#1a1a1a"/>
<path d="M720.8,738 A2.2,2.2 0 0 0 725.2,738 Z" fill="#1a1a1a"/>
<path d="M729.8,738 A2.2,2.2 0 0 0 734.2,738 Z" fill="#1a1a1a"/>
<path d="M776.8,738 A2.2,2.2 0 0 0 781.2,738 Z" fill="#1a1a1a"/>
<path d="M785.8,738 A2.2,2.2 0 0 0 790.2,738 Z" fill="#1a1a1a"/>
<path d="M727.8,787 A2.2,2.2 0 0 0 732.2,787 Z" fill="#1a1a1a"/>
<path d="M736.8,787 A2.2,2.2 0 0 0 741.2,787 Z" fill="#1a1a1a"/>
<path d="M779.8,787 A2.2,2.2 0 0 0 784.2,787 Z" fill="#1a1a1a"/>
<path d="M787.8,787 A2.2,2.2 0 0 0 792.2,787 Z" fill="#1a1a1a"/>
<path d="M729.8,835.3 A2.2,2.2 0 0 0 734.2,835.3 Z" fill="#1a1a1a"/>
<path d="M738.8,835.3 A2.2,2.2 0 0 0 743.2,835.3 Z" fill="#1a1a1a"/>
<path d="M780.8,835.3 A2.2,2.2 0 0 0 785.2,835.3 Z" fill="#1a1a1a"/>
<path d="M788.8,835.3 A2.2,2.2 0 0 0 793.2,835.3 Z" fill="#1a1a1a"/>
<rect x="563" y="398.3" width="13.5" height="33.099999999999966" fill="url(#coldg)" stroke="#3a3a3a" stroke-width="0.8"/>
<rect x="573.7" y="398.3" width="27.699999999999932" height="45.0" fill="url(#colg)" stroke="#3a3a3a" stroke-width="0.8"/>
<rect x="574.2" y="443.3" width="22.799999999999955" height="37.30000000000001" fill="url(#colg)" stroke="#3a3a3a" stroke-width="0.8"/>
<rect x="597" y="447" width="15.700000000000045" height="33.60000000000002" fill="#5e5e5e" stroke="#3a3a3a" stroke-width="0.8"/>
<rect x="612.7" y="447" width="20.899999999999977" height="44" fill="url(#colg)" stroke="#3a3a3a" stroke-width="0.8"/>
<rect x="605.5" y="480.6" width="27.700000000000045" height="10.399999999999977" fill="url(#colg)" stroke="#3a3a3a" stroke-width="0.8"/>
<rect x="607.5" y="491" width="23.700000000000045" height="38.39999999999998" fill="url(#colg)" stroke="#3a3a3a" stroke-width="0.8"/>
<rect x="631.2" y="495.6" width="18.5" height="33.799999999999955" fill="#606060" stroke="#3a3a3a" stroke-width="0.8"/>
<rect x="649.7" y="495.6" width="15.799999999999955" height="39.39999999999998" fill="url(#colg)" stroke="#3a3a3a" stroke-width="0.8"/>
<rect x="637.8" y="528.7" width="26.40000000000009" height="11.299999999999955" fill="url(#colg)" stroke="#3a3a3a" stroke-width="0.8"/>
<rect x="638.5" y="540" width="24.399999999999977" height="37.5" fill="url(#colg)" stroke="#3a3a3a" stroke-width="0.8"/>
<rect x="662.9" y="543.8" width="13.100000000000023" height="33.700000000000045" fill="#8a8a8a" stroke="#3a3a3a" stroke-width="0.8"/>
<rect x="676" y="543.8" width="19.600000000000023" height="39.40000000000009" fill="url(#colg)" stroke="#3a3a3a" stroke-width="0.8"/>
<rect x="666" y="577.5" width="27" height="10.5" fill="url(#colg)" stroke="#3a3a3a" stroke-width="0.8"/>
<rect x="666.6" y="588" width="25.600000000000023" height="38" fill="url(#colg)" stroke="#3a3a3a" stroke-width="0.8"/>
<rect x="692.2" y="592.7" width="11.799999999999955" height="33.299999999999955" fill="#5a5a5a" stroke="#3a3a3a" stroke-width="0.8"/>
<rect x="704" y="592.7" width="15.299999999999955" height="43.299999999999955" fill="url(#colg)" stroke="#3a3a3a" stroke-width="0.8"/>
<rect x="692.2" y="626" width="27.09999999999991" height="11.299999999999955" fill="url(#colg)" stroke="#3a3a3a" stroke-width="0.8"/>
<rect x="692.9" y="637.3" width="25.700000000000045" height="36.90000000000009" fill="url(#colg)" stroke="#3a3a3a" stroke-width="0.8"/>
<rect x="718.6" y="641" width="9.199999999999932" height="33.200000000000045" fill="#8a8a8a" stroke="#3a3a3a" stroke-width="0.8"/>
<rect x="727.8" y="641" width="13.200000000000045" height="39.60000000000002" fill="url(#colg)" stroke="#3a3a3a" stroke-width="0.8"/>
<rect x="717" y="674.2" width="24" height="10.799999999999955" fill="url(#colg)" stroke="#3a3a3a" stroke-width="0.8"/>
<rect x="716.6" y="685" width="22.799999999999955" height="37.60000000000002" fill="url(#colg)" stroke="#3a3a3a" stroke-width="0.8"/>
<rect x="739.4" y="689.5" width="18.200000000000045" height="44.0" fill="url(#colg)" stroke="#3a3a3a" stroke-width="0.8"/>
<rect x="729.5" y="722.6" width="27.700000000000045" height="10.899999999999977" fill="url(#colg)" stroke="#3a3a3a" stroke-width="0.8"/>
<rect x="730.5" y="733.5" width="29.700000000000045" height="38.0" fill="url(#colg)" stroke="#3a3a3a" stroke-width="0.8"/>
<rect x="760.2" y="738" width="8.5" height="44" fill="url(#colg)" stroke="#3a3a3a" stroke-width="0.8"/>
<rect x="740.4" y="771.5" width="27.700000000000045" height="10.5" fill="url(#colg)" stroke="#3a3a3a" stroke-width="0.8"/>
<rect x="741.8" y="782" width="25.300000000000068" height="38.200000000000045" fill="url(#colg)" stroke="#3a3a3a" stroke-width="0.8"/>
<rect x="767.1" y="786.7" width="7.600000000000023" height="44.799999999999955" fill="url(#colg)" stroke="#3a3a3a" stroke-width="0.8"/>
<rect x="746.3" y="820.2" width="28.40000000000009" height="11.299999999999955" fill="url(#colg)" stroke="#3a3a3a" stroke-width="0.8"/>
<rect x="746.3" y="831.5" width="28.40000000000009" height="38.5" fill="url(#colg)" stroke="#3a3a3a" stroke-width="0.8"/>
<rect x="737.4" y="871" width="45.6" height="2.6" fill="#222"/>
<line x1="743.8" y1="872" x2="743.8" y2="880" stroke="#222" stroke-width="1.8"/>
<line x1="752.3" y1="872" x2="752.3" y2="880" stroke="#222" stroke-width="1.8"/>
<line x1="768.7" y1="872" x2="768.7" y2="880" stroke="#222" stroke-width="1.8"/>
<line x1="777" y1="872" x2="777" y2="880" stroke="#222" stroke-width="1.8"/>
<circle cx="603.5" cy="411.6" r="2" fill="#1a1a1a" stroke="#666" stroke-width="0.6"/>
<circle cx="603.5" cy="430.8" r="2" fill="#1a1a1a" stroke="#666" stroke-width="0.6"/>
<circle cx="636" cy="459.7" r="2" fill="#1a1a1a" stroke="#666" stroke-width="0.6"/>
<circle cx="636" cy="479" r="2" fill="#1a1a1a" stroke="#666" stroke-width="0.6"/>
<circle cx="666.5" cy="508.3" r="2" fill="#1a1a1a" stroke="#666" stroke-width="0.6"/>
<circle cx="666.5" cy="528" r="2" fill="#1a1a1a" stroke="#666" stroke-width="0.6"/>
<circle cx="697" cy="562" r="2" fill="#1a1a1a" stroke="#666" stroke-width="0.6"/>
<circle cx="697" cy="577" r="2" fill="#1a1a1a" stroke="#666" stroke-width="0.6"/>
<circle cx="738.4" cy="667.6" r="2" fill="#1a1a1a" stroke="#666" stroke-width="0.6"/>
<circle cx="757" cy="716" r="2" fill="#1a1a1a" stroke="#666" stroke-width="0.6"/>
<circle cx="769.5" cy="764.8" r="2" fill="#1a1a1a" stroke="#666" stroke-width="0.6"/>
<circle cx="776" cy="813.7" r="2" fill="#1a1a1a" stroke="#666" stroke-width="0.6"/>
<circle cx="744.4" cy="854.3" r="2" fill="#1a1a1a" stroke="#666" stroke-width="0.6"/>
<circle cx="776" cy="854.3" r="2" fill="#1a1a1a" stroke="#666" stroke-width="0.6"/>
<circle cx="587" cy="420.6" r="1.8" fill="#151515"/>
<circle cx="622.9" cy="473.2" r="1.8" fill="#151515"/>
<circle cx="657" cy="522" r="1.8" fill="#151515"/>
<circle cx="715.3" cy="618.8" r="1.8" fill="#151515"/>
<rect x="694.3" y="674" width="22.300000000000068" height="197.70000000000005" fill="url(#colg)" stroke="#3a3a3a" stroke-width="0.8"/>
<rect x="686" y="871" width="39" height="3.2" fill="#222"/>
<path d="M688,626 L688,777.8" fill="none" stroke="#2e2e2e" stroke-width="7" stroke-linejoin="round"/>
<path d="M688,626 L688,777.8" fill="none" stroke="#8a8a8a" stroke-width="5.4" stroke-linejoin="round"/>
<mask id="wmout" maskUnits="userSpaceOnUse" x="0" y="0" width="1500" height="1061"><rect width="1500" height="1061" fill="#fff"/><text x="0" y="0" transform="translate(585,669.5) rotate(-35.3)" font-family="Liberation Sans, sans-serif" font-weight="bold" font-size="61" letter-spacing="-4.6" stroke-linejoin="round" fill="#000" stroke="#000" stroke-width="0.9">lestnicy-prosto.ru</text></mask>
<g opacity="0.38"><text x="0" y="0" transform="translate(585,669.5) rotate(-35.3)" font-family="Liberation Sans, sans-serif" font-weight="bold" font-size="61" letter-spacing="-4.6" stroke-linejoin="round" fill="#fff" stroke="#fff" stroke-width="0.9">lestnicy-prosto.ru</text></g>
<g mask="url(#wmout)"><text x="0" y="0" transform="translate(585,669.5) rotate(-35.3)" font-family="Liberation Sans, sans-serif" font-weight="bold" font-size="61" letter-spacing="-4.6" stroke-linejoin="round" fill="none" stroke="#ababab" stroke-width="4.2">lestnicy-prosto.ru</text></g>
<line x1="100" y1="389.5" x2="133" y2="389.5" stroke="#555" stroke-width="1"/>
<line x1="100" y1="872.5" x2="255" y2="872.5" stroke="#555" stroke-width="1"/>
<line x1="104.5" y1="390" x2="104.5" y2="872" stroke="#3a3a3a" stroke-width="1"/>
<polygon points="104.2,390.0 106.7,403.0 101.7,403.0" fill="#111"/>
<polygon points="104.2,872.3 101.7,859.3 106.7,859.3" fill="#111"/>
<text x="0" y="0" transform="translate(101.1,620.7) rotate(-90)" font-size="18" font-family="Liberation Sans, sans-serif" font-style="italic" text-anchor="middle" fill="#111" stroke="#111" stroke-width="0.2" textLength="31.7" lengthAdjust="spacingAndGlyphs">1963</text>
<line x1="131.5" y1="390" x2="131.5" y2="956" stroke="#555" stroke-width="1"/>
<line x1="472.5" y1="836" x2="472.5" y2="956" stroke="#555" stroke-width="1"/>
<line x1="131.7" y1="951.5" x2="472.5" y2="951.5" stroke="#3a3a3a" stroke-width="1"/>
<polygon points="131.7,951.5 144.7,949.0 144.7,954.0" fill="#111"/>
<polygon points="472.5,951.5 459.5,954.0 459.5,949.0" fill="#111"/>
<text x="298.2" y="948.6" font-size="18" font-family="Liberation Sans, sans-serif" font-style="italic" text-anchor="middle" fill="#111" stroke="#111" stroke-width="0.2" textLength="31.5" lengthAdjust="spacingAndGlyphs">1381</text>
<line x1="267" y1="150.5" x2="300" y2="150.5" stroke="#555" stroke-width="1"/>
<line x1="270.5" y1="150.5" x2="270.5" y2="389.6" stroke="#3a3a3a" stroke-width="1"/>
<polygon points="270.6,150.5 273.1,163.5 268.1,163.5" fill="#111"/>
<polygon points="270.6,389.3 268.1,376.3 273.1,376.3" fill="#111"/>
<text x="0" y="0" transform="translate(264.6,267.7) rotate(-90)" font-size="18" font-family="Liberation Sans, sans-serif" font-style="italic" text-anchor="middle" fill="#111" stroke="#111" stroke-width="0.2" textLength="39.6" lengthAdjust="spacingAndGlyphs">972,5</text>
<line x1="163" y1="346.5" x2="194" y2="346.5" stroke="#555" stroke-width="1"/>
<line x1="167.5" y1="346" x2="167.5" y2="389.6" stroke="#3a3a3a" stroke-width="1"/>
<polygon points="167.0,346.3 169.5,357.3 164.5,357.3" fill="#111"/>
<polygon points="167.0,389.3 164.5,378.3 169.5,378.3" fill="#111"/>
<text x="0" y="0" transform="translate(164,365.5) rotate(-90)" font-size="18" font-family="Liberation Sans, sans-serif" font-style="italic" text-anchor="middle" fill="#111" stroke="#111" stroke-width="0.2" textLength="22.7" lengthAdjust="spacingAndGlyphs">175</text>
<line x1="308.5" y1="60" x2="308.5" y2="100" stroke="#222" stroke-width="1.2"/>
<polygon points="308.0,115.0 303.8,93.0 312.2,93.0" fill="#111"/>
<text x="288.5" y="91" font-size="25" font-family="Liberation Sans, sans-serif" font-style="italic" text-anchor="middle" fill="#111" stroke="#111" stroke-width="0.2" textLength="15.5" lengthAdjust="spacingAndGlyphs">A</text>
<line x1="562.5" y1="437" x2="562.5" y2="956" stroke="#777" stroke-width="1"/>
<line x1="852.5" y1="738" x2="852.5" y2="956" stroke="#777" stroke-width="1"/>
<line x1="562.4" y1="949.5" x2="852" y2="949.5" stroke="#3a3a3a" stroke-width="1"/>
<polygon points="562.4,949.5 575.4,947.0 575.4,952.0" fill="#111"/>
<polygon points="852.0,949.5 839.0,952.0 839.0,947.0" fill="#111"/>
<text x="703.2" y="946.8" font-size="18" font-family="Liberation Sans, sans-serif" font-style="italic" text-anchor="middle" fill="#111" stroke="#111" stroke-width="0.2" textLength="30.9" lengthAdjust="spacingAndGlyphs">1177</text>
<line x1="905.5" y1="189" x2="905.5" y2="742" stroke="#555" stroke-width="1"/>
<line x1="1157.5" y1="189" x2="1157.5" y2="246" stroke="#555" stroke-width="1"/>
<line x1="905.4" y1="193.5" x2="1157" y2="193.5" stroke="#3a3a3a" stroke-width="1"/>
<polygon points="905.4,193.6 918.4,191.1 918.4,196.1" fill="#111"/>
<polygon points="1157.0,193.6 1144.0,196.1 1144.0,191.1" fill="#111"/>
<text x="1051" y="190" font-size="18" font-family="Liberation Sans, sans-serif" font-style="italic" text-anchor="middle" fill="#111" stroke="#111" stroke-width="0.2" textLength="27" lengthAdjust="spacingAndGlyphs">700</text>
<line x1="862.6" y1="238.5" x2="1066" y2="238.5" stroke="#555" stroke-width="1"/>
<line x1="862.6" y1="658.5" x2="1256" y2="658.5" stroke="#555" stroke-width="1"/>
<line x1="866.5" y1="238.5" x2="866.5" y2="658" stroke="#3a3a3a" stroke-width="1"/>
<polygon points="866.4,238.5 868.9,251.5 863.9,251.5" fill="#111"/>
<polygon points="866.4,657.7 863.9,644.7 868.9,644.7" fill="#111"/>
<text x="0" y="0" transform="translate(862.6,437) rotate(-90)" font-size="18" font-family="Liberation Sans, sans-serif" font-style="italic" text-anchor="middle" fill="#111" stroke="#111" stroke-width="0.2" textLength="28.6" lengthAdjust="spacingAndGlyphs">1177</text>
<line x1="1398.5" y1="651" x2="1398.5" y2="742" stroke="#555" stroke-width="1"/>
<line x1="905.4" y1="737.5" x2="1398" y2="737.5" stroke="#3a3a3a" stroke-width="1"/>
<polygon points="905.4,737.5 918.4,735.0 918.4,740.0" fill="#111"/>
<polygon points="1398.0,737.5 1385.0,740.0 1385.0,735.0" fill="#111"/>
<text x="1145.7" y="734.8" font-size="18" font-family="Liberation Sans, sans-serif" font-style="italic" text-anchor="middle" fill="#111" stroke="#111" stroke-width="0.2" textLength="30.4" lengthAdjust="spacingAndGlyphs">1381</text>
<line x1="1301" y1="400.5" x2="1458" y2="400.5" stroke="#555" stroke-width="1"/>
<line x1="1398" y1="651.5" x2="1458" y2="651.5" stroke="#555" stroke-width="1"/>
<line x1="1454.5" y1="401" x2="1454.5" y2="651" stroke="#3a3a3a" stroke-width="1"/>
<polygon points="1454.5,401.0 1457.0,414.0 1452.0,414.0" fill="#111"/>
<polygon points="1454.5,650.7 1452.0,637.7 1457.0,637.7" fill="#111"/>
<text x="0" y="0" transform="translate(1450.9,541.4) rotate(-90)" font-size="18" font-family="Liberation Sans, sans-serif" font-style="italic" text-anchor="middle" fill="#111" stroke="#111" stroke-width="0.2" textLength="26.5" lengthAdjust="spacingAndGlyphs">700</text>
<path d="M1157,222 A178,178 0 0 1 1335,400" fill="none" stroke="#222" stroke-width="1"/>
<polygon points="1157.5,222.0 1170.5,219.8 1170.4,224.8" fill="#111"/>
<polygon points="1334.5,400.5 1331.7,387.6 1336.7,387.5" fill="#111"/>
<text x="0" y="0" transform="translate(1290.3,268.8) rotate(37) translate(0,6)" font-size="17" font-family="Liberation Sans, sans-serif" font-style="italic" text-anchor="middle" fill="#111" stroke="#111" stroke-width="0.2" textLength="26.5" lengthAdjust="spacingAndGlyphs">90°</text></svg></body></html>
